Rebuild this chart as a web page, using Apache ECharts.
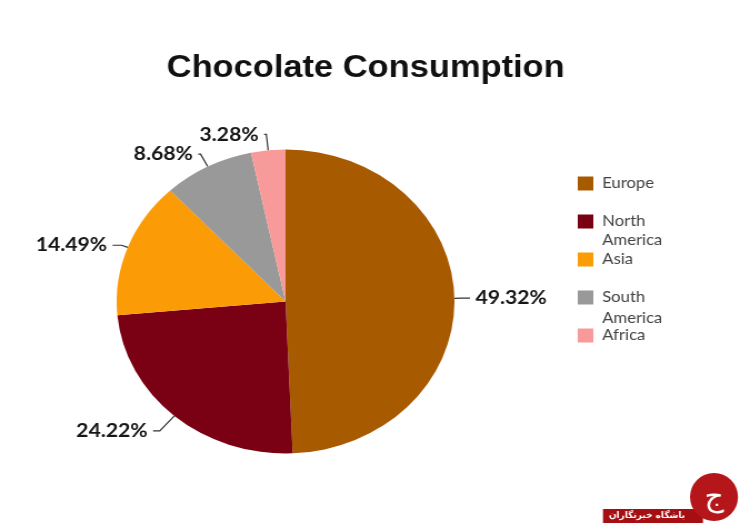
<!DOCTYPE html>
<html>
<head>
<meta charset="utf-8">
<script src="https://cdn.jsdelivr.net/npm/echarts@6/dist/echarts.min.js"></script>
<style>
  html, body { margin: 0; padding: 0; background: #fff; overflow: hidden; }
  /* the reference picture is stretched horizontally, so stretch the chart the same way */
  #chart { width: 666px; height: 527px; transform: scaleX(1.1111); transform-origin: 0 0; }
</style>
</head>
<body>
<div id="chart"></div>
<script>
const regions = ['Europe', 'North America', 'Asia', 'South America', 'Africa']
const shares = [49.32, 24.22, 14.49, 8.68, 3.28]
const colors = ['#a85a00', '#7a0013', '#fb9b06', '#999999', '#f99a9a']

// label line lengths for each slice (radial part, horizontal part)
const lineLen = [6, 20, 6, 14, 16]
const lineLen2 = [8, 6, 8, 2, 2]

const legendFont = {
	fontFamily: 'Lato',
	fontSize: 15,
	color: '#444',
	lineHeight: 19,
	padding: [0, 0, 0, 3],
}

const chart = echarts.init(document.getElementById('chart'), null, { renderer: 'canvas' })

chart.setOption({
	backgroundColor: '#fff',
	animation: false,
	title: {
		text: 'Chocolate Consumption',
		left: 150,
		top: 53,
		padding: 0,
		textStyle: {
			fontFamily: 'Liberation Sans, Arial, sans-serif',
			fontWeight: 'bold',
			fontSize: 31,
			color: '#111',
		},
	},
	legend: [
		{
			orient: 'vertical',
			left: 520,
			top: 174,
			padding: 0,
			itemGap: 19,
			itemWidth: 14,
			itemHeight: 14,
			icon: 'rect',
			data: regions,
			formatter: (name) => name.split(' ')[0],
			textStyle: legendFont,
		},
		{
			// second lines of the two-word names
			orient: 'vertical',
			left: 520,
			top: 230.5,
			padding: 0,
			itemGap: 59,
			itemWidth: 14,
			itemHeight: 14,
			icon: 'rect',
			itemStyle: { opacity: 0 },
			data: regions.filter((r) => r.includes(' ')),
			formatter: (name) => name.split(' ')[1],
			textStyle: legendFont,
		},
	],
	series: [
		{
			type: 'pie',
			center: [257, 301.5],
			radius: 152,
			startAngle: 90,
			clockwise: true,
			avoidLabelOverlap: false,
			emphasis: { scale: false },
			label: {
				show: true,
				position: 'outside',
				formatter: (p) => p.value.toFixed(2) + '%',
				fontFamily: 'Lato',
				fontWeight: 'bold',
				fontSize: 19,
				color: '#161616',
				distanceToLabelLine: 5,
			},
			labelLine: {
				show: true,
				lineStyle: { color: '#333', width: 1.2 },
			},
			data: regions.map((name, i) => ({
				name,
				value: shares[i],
				itemStyle: { color: colors[i] },
				labelLine: { length: lineLen[i], length2: lineLen2[i] },
			})),
		},
	],
	graphic: [
		{
			// watermark, bottom right
			type: 'group',
			x: 542.7,
			y: 473,
			scaleX: 0.9,
			children: [
				{ type: 'rect', shape: { x: 0, y: 36, width: 100, height: 14 }, style: { fill: '#a50f12' } },
				{ type: 'circle', shape: { cx: 111, cy: 24, r: 24 }, style: { fill: '#b5161a' } },
				{
					type: 'text',
					x: 111,
					y: 25,
					style: { text: 'ج', fill: '#fff', fontSize: 30, fontFamily: 'DejaVu Sans', align: 'center', verticalAlign: 'middle' },
				},
				{
					type: 'text',
					x: 44,
					y: 43,
					style: { text: 'باشگاه خبرنگاران', fill: '#fff', fontSize: 9, fontWeight: 'bold', fontFamily: 'DejaVu Sans', align: 'center', verticalAlign: 'middle' },
				},
			],
		},
	],
})
</script>
</body>
</html>
